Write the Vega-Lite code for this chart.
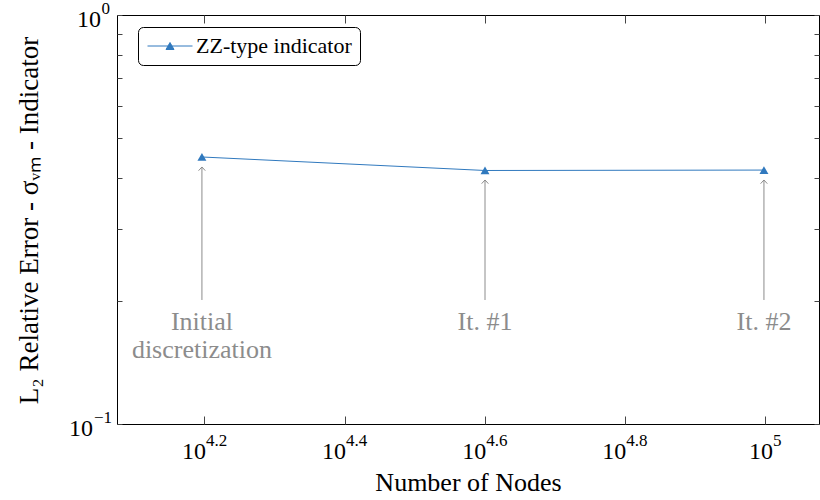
{
  "$schema": "https://vega.github.io/schema/vega-lite/v6.json",
  "width": 702,
  "height": 409,
  "autosize": "none",
  "padding": {"left": 117, "top": 15, "right": 1, "bottom": 76},
  "background": "white",
  "config": {"view": {"stroke": "black", "strokeWidth": 1}, "font": "Liberation Serif"},
  "datasets": {
    "series": [
      {"nodes": 15716, "err": 0.4496},
      {"nodes": 39850, "err": 0.4167},
      {"nodes": 99680, "err": 0.4177}
    ],
    "notes": [
      {"nodes": 15716, "tip": 0.425, "base": 0.201, "ly": 0.1911, "label": ["Initial", "discretization"]},
      {"nodes": 39850, "tip": 0.395, "base": 0.201, "ly": 0.1911, "label": ["It. #1"]},
      {"nodes": 99680, "tip": 0.395, "base": 0.201, "ly": 0.1911, "label": ["It. #2"]}
    ],
    "xt3": [
      {"v": 15848.93, "e": "4.2"},
      {"v": 25118.86, "e": "4.4"},
      {"v": 39810.72, "e": "4.6"},
      {"v": 63095.73, "e": "4.8"}
    ],
    "xt1": [{"v": 100000, "e": "5"}],
    "yt0": [{"v": 1, "e": "0"}],
    "yt1": [{"v": 0.1, "e": "−1"}]
  },
  "layer": [
    {
      "data": {"name": "series"},
      "mark": {"type": "line", "strokeWidth": 1},
      "encoding": {
        "x": {"field": "nodes", "type": "quantitative",
          "scale": {"type": "log", "domain": [11888, 119450], "nice": false},
          "axis": {"orient": "bottom", "values": [15848.93, 25118.86, 39810.72, 63095.73, 100000], "labels": false, "tickSize": -8, "tickColor": "#444", "domain": false, "grid": false,
            "title": "Number of Nodes", "titleFont": "Liberation Serif", "titleFontSize": 26, "titleFontWeight": "normal", "titleColor": "black", "titleBaseline": "middle", "titleY": 58}},
        "y": {"field": "err", "type": "quantitative",
          "scale": {"type": "log", "domain": [0.1, 1], "nice": false},
          "axis": {"orient": "left", "values": [0.1, 0.2, 0.3, 0.4, 0.5, 0.6, 0.7, 0.8, 0.9, 1], "labels": false, "tickSize": -5, "tickColor": "#444", "domain": false, "grid": false,
            "title": "L₂ Relative Error - σᵥₘ - Indicator", "titleFont": "Liberation Serif", "titleFontSize": 27, "titleFontWeight": "normal", "titleColor": "black", "titleBaseline": "middle", "titleX": -88, "titleY": 205}},
        "color": {"datum": "ZZ-type indicator", "scale": {"range": ["#3079be"]},
          "legend": {"title": null, "orient": "none", "legendX": 21, "legendY": 12, "padding": 8, "cornerRadius": 5, "strokeColor": "black", "fillColor": "white",
            "labelFont": "Liberation Serif", "labelFontSize": 22, "labelColor": "black", "labelLimit": 400, "labelOffset": 15, "symbolOffset": 13,
            "symbolType": "M-2.25,0L2.25,0M-0.4,0.35L0,-0.35L0.4,0.35Z", "symbolSize": 400, "symbolStrokeWidth": 1,
            "encode": {"symbols": {"update": {"fill": {"value": "#3079be"}, "stroke": {"value": "#3079be"}, "strokeWidth": {"value": 1}, "opacity": {"value": 1}}}}}}
      }
    },
    {
      "data": {"name": "series"},
      "mark": {"type": "point", "shape": "triangle-up", "filled": true, "size": 80, "opacity": 1},
      "encoding": {
        "x": {"field": "nodes", "type": "quantitative", "scale": {"type": "log"}, "axis": null},
        "y": {"field": "err", "type": "quantitative", "scale": {"type": "log"}, "axis": null},
        "color": {"datum": "ZZ-type indicator"}
      }
    },
    {
      "data": {"name": "notes"},
      "mark": {"type": "rule", "color": "#8c8c8c", "strokeWidth": 1},
      "encoding": {
        "x": {"field": "nodes", "type": "quantitative", "scale": {"type": "log"},
          "axis": {"orient": "top", "values": [15848.93, 25118.86, 39810.72, 63095.73, 100000], "labels": false, "tickSize": -8, "tickColor": "#444", "domain": false, "grid": false, "title": null}},
        "y": {"field": "base", "type": "quantitative", "scale": {"type": "log"},
          "axis": {"orient": "right", "values": [0.1, 0.2, 0.3, 0.4, 0.5, 0.6, 0.7, 0.8, 0.9, 1], "labels": false, "tickSize": -5, "tickColor": "#444", "domain": false, "grid": false, "title": null}},
        "y2": {"field": "tip"}
      }
    },
    {
      "data": {"name": "notes"},
      "mark": {"type": "point", "shape": "M-1,1.1L0,0L1,1.1", "filled": false, "size": 45, "color": "#8c8c8c", "strokeWidth": 1, "opacity": 1},
      "encoding": {
        "x": {"field": "nodes", "type": "quantitative", "scale": {"type": "log"}, "axis": null},
        "y": {"field": "tip", "type": "quantitative", "scale": {"type": "log"}, "axis": null}
      }
    },
    {
      "data": {"name": "notes"},
      "mark": {"type": "text", "font": "Liberation Serif", "fontSize": 26, "color": "#8c8c8c", "baseline": "top", "align": "center", "lineHeight": 28},
      "encoding": {
        "x": {"field": "nodes", "type": "quantitative", "scale": {"type": "log"}, "axis": null},
        "y": {"field": "ly", "type": "quantitative", "scale": {"type": "log"}, "axis": null},
        "text": {"field": "label"}
      }
    },
    {
      "data": {"name": "xt3"},
      "mark": {"type": "text", "text": "10", "font": "Liberation Serif", "fontSize": 24, "color": "black", "baseline": "middle", "align": "right", "dx": 1.5, "dy": 28},
      "encoding": {
        "x": {"field": "v", "type": "quantitative", "scale": {"type": "log"}, "axis": null},
        "y": {"datum": 0.1, "type": "quantitative", "scale": {"type": "log"}, "axis": null}
      }
    },
    {
      "data": {"name": "xt3"},
      "mark": {"type": "text", "font": "Liberation Serif", "fontSize": 17, "color": "black", "baseline": "middle", "align": "left", "dx": 1.5, "dy": 17},
      "encoding": {
        "x": {"field": "v", "type": "quantitative", "scale": {"type": "log"}, "axis": null},
        "y": {"datum": 0.1, "type": "quantitative", "scale": {"type": "log"}, "axis": null},
        "text": {"field": "e"}
      }
    },
    {
      "data": {"name": "xt1"},
      "mark": {"type": "text", "text": "10", "font": "Liberation Serif", "fontSize": 24, "color": "black", "baseline": "middle", "align": "right", "dx": 8, "dy": 28},
      "encoding": {
        "x": {"field": "v", "type": "quantitative", "scale": {"type": "log"}, "axis": null},
        "y": {"datum": 0.1, "type": "quantitative", "scale": {"type": "log"}, "axis": null}
      }
    },
    {
      "data": {"name": "xt1"},
      "mark": {"type": "text", "font": "Liberation Serif", "fontSize": 17, "color": "black", "baseline": "middle", "align": "left", "dx": 8, "dy": 17},
      "encoding": {
        "x": {"field": "v", "type": "quantitative", "scale": {"type": "log"}, "axis": null},
        "y": {"datum": 0.1, "type": "quantitative", "scale": {"type": "log"}, "axis": null},
        "text": {"field": "e"}
      }
    },
    {
      "data": {"name": "yt0"},
      "mark": {"type": "text", "text": "10", "font": "Liberation Serif", "fontSize": 24, "color": "black", "baseline": "middle", "align": "right", "dx": -16, "dy": 5},
      "encoding": {
        "x": {"datum": 11888, "type": "quantitative", "scale": {"type": "log"}, "axis": null},
        "y": {"field": "v", "type": "quantitative", "scale": {"type": "log"}, "axis": null}
      }
    },
    {
      "data": {"name": "yt0"},
      "mark": {"type": "text", "font": "Liberation Serif", "fontSize": 17, "color": "black", "baseline": "middle", "align": "right", "dx": -7, "dy": -6},
      "encoding": {
        "x": {"datum": 11888, "type": "quantitative", "scale": {"type": "log"}, "axis": null},
        "y": {"field": "v", "type": "quantitative", "scale": {"type": "log"}, "axis": null},
        "text": {"field": "e"}
      }
    },
    {
      "data": {"name": "yt1"},
      "mark": {"type": "text", "text": "10", "font": "Liberation Serif", "fontSize": 24, "color": "black", "baseline": "middle", "align": "right", "dx": -24, "dy": 5},
      "encoding": {
        "x": {"datum": 11888, "type": "quantitative", "scale": {"type": "log"}, "axis": null},
        "y": {"field": "v", "type": "quantitative", "scale": {"type": "log"}, "axis": null}
      }
    },
    {
      "data": {"name": "yt1"},
      "mark": {"type": "text", "font": "Liberation Serif", "fontSize": 17, "color": "black", "baseline": "middle", "align": "right", "dx": -5, "dy": -6},
      "encoding": {
        "x": {"datum": 11888, "type": "quantitative", "scale": {"type": "log"}, "axis": null},
        "y": {"field": "v", "type": "quantitative", "scale": {"type": "log"}, "axis": null},
        "text": {"field": "e"}
      }
    }
  ],
  "resolve": {"axis": {"x": "independent", "y": "independent"}}
}
